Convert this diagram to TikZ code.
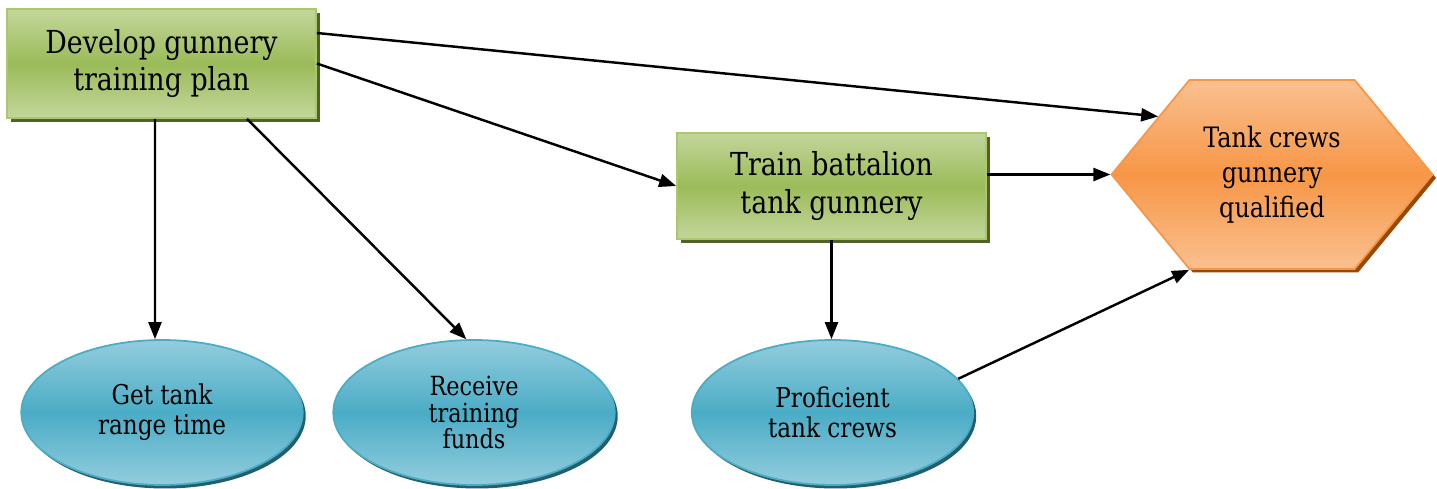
\documentclass[tikz,border=0pt]{standalone}
\usepackage{fontspec}
\setmainfont{DejaVu Serif}[FakeStretch=0.85]
\usetikzlibrary{arrows.meta,shapes.geometric,shapes.symbols,shadows}

\definecolor{glight}{HTML}{C3D69B}
\definecolor{gmid}{HTML}{9BBB59}
\definecolor{gbord}{HTML}{A9C76B}
\definecolor{gshadow}{HTML}{4F6228}
\definecolor{blight}{HTML}{93CDDD}
\definecolor{bmid}{HTML}{4BACC6}
\definecolor{bshadow}{HTML}{215E6E}
\definecolor{olight}{HTML}{FAC090}
\definecolor{omid}{HTML}{F79646}
\definecolor{oshadow}{HTML}{984807}

\tikzset{
  greenbox/.style={rectangle, draw=gbord, line width=1pt, inner sep=0pt,
    minimum width=6.18cm, top color=glight, bottom color=glight, middle color=gmid,
    drop shadow={shadow xshift=0.08cm, shadow yshift=-0.08cm, fill=gshadow, opacity=1},
    align=center, font=\fontsize{18}{21.5}\selectfont},
  bluecircle/.style={ellipse, draw=bmid, line width=1pt, inner sep=0pt,
    minimum width=5.63cm, minimum height=2.9cm,
    top color=blight, bottom color=blight, middle color=bmid,
    drop shadow={shadow xshift=0.06cm, shadow yshift=-0.07cm, fill=bshadow, opacity=1},
    align=center, font=\fontsize{15.5}{17}\selectfont},
  goalhex/.style={signal, signal to=west and east, signal pointer angle=101,
    draw=omid, line width=1pt, inner sep=0pt,
    minimum width=6.42cm, minimum height=3.78cm,
    top color=olight, bottom color=olight, middle color=omid,
    drop shadow={shadow xshift=0.07cm, shadow yshift=-0.07cm, fill=oshadow, opacity=1},
    align=center, font=\fontsize{16}{20}\selectfont},
  conn/.style={-{Triangle[length=0.34cm,width=0.26cm]}, line width=1.4pt, black}
}

\begin{document}
\begin{tikzpicture}[x=0.02cm, y=-0.02cm]
  \useasboundingbox (0,0) rectangle (1437,489);

  % activities
  \node[greenbox, minimum height=2.18cm] (plan) at (161.5,63.5) {Develop gunnery\\training plan};
  \node[greenbox, minimum height=2.12cm] (train) at (831.5,186) {Train battalion\\tank gunnery};

  % goal
  \node[goalhex] (goal) at (1272,174.5) {Tank crews\\gunnery\\qualified};

  % intermediate outcomes
  \node[bluecircle] (range) at (162,412.5) {Get tank\\range time};
  \node[bluecircle, font=\fontsize{15}{15.3}\selectfont] (funds) at (474,412.5) {Receive\\training\\funds};
  \node[bluecircle] (crews) at (832.5,412.5) {Proficient\\tank crews};

  % links
  \draw[conn] ([yshift=0.61cm]plan.east) -- (goal.153);
  \draw[conn] (plan.east) -- (train.west);
  \draw[conn] ([xshift=-0.13cm]plan.south) -- ([xshift=-0.14cm]range.north);
  \draw[conn] ([xshift=1.71cm]plan.south) -- (funds.96);
  \draw[conn] (train.east |- goal.west) -- (goal.west);
  \draw[conn] (train.south) -- (train.south |- crews.north);
  \draw[conn] (crews.15) -- (goal.229);
\end{tikzpicture}
\end{document}
